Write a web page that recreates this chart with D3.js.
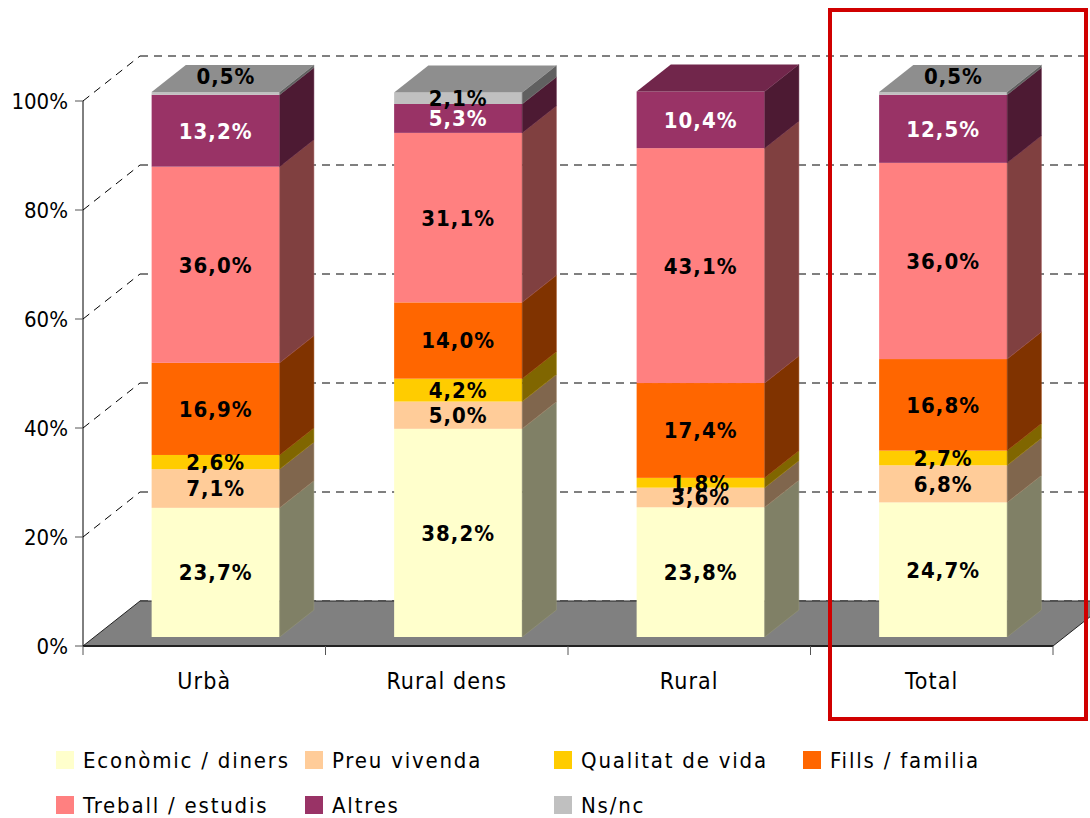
<!DOCTYPE html>
<html>
<head>
<meta charset="utf-8">
<script src="https://cdn.jsdelivr.net/npm/d3@7"></script>
<style>
  body { margin: 0; background: #fff; }
  text { font-family: "DejaVu Sans Condensed", "DejaVu Sans", sans-serif; font-stretch: condensed; }
</style>
</head>
<body>
<div class="chart"></div>
<script>
// data
var categories = ['Urbà', 'Rural dens', 'Rural', 'Total'];
var seriesNames = ['Econòmic / diners', 'Preu vivenda', 'Qualitat de vida', 'Fills / familia',
                   'Treball / estudis', 'Altres', 'Ns/nc'];
var economic  = [23.7, 38.2, 23.8, 24.7];
var preu      = [7.1, 5.0, 3.6, 6.8];
var qualitat  = [2.6, 4.2, 1.8, 2.7];
var fills     = [16.9, 14.0, 17.4, 16.8];
var treball   = [36.0, 31.1, 43.1, 36.0];
var altres    = [13.2, 5.3, 10.4, 12.5];
var nsnc      = [0.5, 2.1, 0, 0.5];
var yTicks    = [0, 20, 40, 60, 80, 100];

var colors = ['#FFFFCC', '#FFCC99', '#FFCC00', '#FF6600', '#FF8080', '#993366', '#C0C0C0'];
var labelColors = ['#000', '#000', '#000', '#000', '#000', '#fff', '#000'];

var width = 1090, height = 818;
// front plane of the plot and the depth vector of the 3d box
var x0 = 83, x1 = 1053, yBottom = 646, yTop = 101;
var depth = { x: 57, y: -45 };
var barFront = 0.2, barDepth = 0.6;

var svg = d3.select('.chart')
  .append('svg')
    .attr('width', width)
    .attr('height', height);

var xScale = d3.scaleBand()
  .domain(categories)
  .range([x0, x1])
  .paddingInner(0.472)
  .paddingOuter(0.236);

var yScale = d3.scaleLinear()
  .domain([0, 100])
  .range([yBottom, yTop]);

var fmt = d3.formatLocale({ decimal: ',', thousands: '.', grouping: [3], currency: ['', '€'] }).format('.1f');

// rows for the stack
var table = categories.map(function (c, i) {
  var row = { cat: c };
  [economic, preu, qualitat, fills, treball, altres, nsnc].forEach(function (arr, k) {
    row[seriesNames[k]] = arr[i];
  });
  return row;
});
var stacked = d3.stack().keys(seriesNames)(table);

function shade(c, f) {
  var col = d3.rgb(c);
  return d3.rgb(col.r * f, col.g * f, col.b * f).toString();
}

// back wall gridlines + diagonal lines on the side
var grid = svg.append('g');
yTicks.forEach(function (t) {
  var y = yScale(t);
  if (t > 0) {
    grid.append('line')
      .attr('x1', x0).attr('y1', y)
      .attr('x2', x0 + depth.x).attr('y2', y + depth.y)
      .attr('stroke', '#000').attr('stroke-dasharray', '8,6');
  }
  grid.append('line')
    .attr('x1', x0 + depth.x).attr('y1', y + depth.y)
    .attr('x2', x1 + depth.x).attr('y2', y + depth.y)
    .attr('stroke', '#000').attr('stroke-dasharray', '8,6');
});

// floor
svg.append('path')
  .attr('d', d3.line()([
    [x0, yBottom], [x1, yBottom],
    [x1 + depth.x, yBottom + depth.y], [x0 + depth.x, yBottom + depth.y]
  ]) + 'Z')
  .attr('fill', '#808080')
  .attr('stroke', '#222')
  .attr('stroke-width', 1);
svg.append('line')
  .attr('x1', x0).attr('y1', yBottom).attr('x2', x1).attr('y2', yBottom)
  .attr('stroke', '#222').attr('stroke-width', 2);

// bars
var bw = xScale.bandwidth();
var fx = depth.x * barFront, fy = depth.y * barFront;
var dx = depth.x * barDepth, dy = depth.y * barDepth;

var bars = svg.append('g');
categories.forEach(function (c, i) {
  var left = xScale(c) + fx;
  var right = left + bw;
  var g = bars.append('g');
  var topIdx = -1;
  stacked.forEach(function (s, k) {
    var d = s[i];
    if (d[1] - d[0] <= 0) return;
    topIdx = k;
    var yb = yScale(d[0]) + fy, yt = yScale(d[1]) + fy;
    g.append('rect')
      .attr('x', left).attr('y', yt)
      .attr('width', bw).attr('height', yb - yt)
      .attr('fill', colors[k]);
    g.append('path')
      .attr('d', d3.line()([[right, yt], [right + dx, yt + dy], [right + dx, yb + dy], [right, yb]]) + 'Z')
      .attr('fill', shade(colors[k], 0.5))
      .attr('stroke', shade(colors[k], 0.6))
      .attr('stroke-width', 0.5);
  });
  var top = stacked[topIdx][i];
  var yt = yScale(top[1]) + fy;
  g.append('path')
    .attr('d', d3.line()([[left, yt], [left + dx, yt + dy], [right + dx, yt + dy], [right, yt]]) + 'Z')
    .attr('fill', shade(colors[topIdx], 0.74));
});

// value labels
var labels = svg.append('g')
  .attr('font-size', 22)
  .attr('font-weight', 'bold')
  .attr('text-anchor', 'middle')
  .attr('letter-spacing', 1);
categories.forEach(function (c, i) {
  var left = xScale(c) + fx;
  stacked.forEach(function (s, k) {
    var d = s[i];
    var v = d[1] - d[0];
    if (v <= 0) return;
    var cx = left + bw / 2;
    var cy = (yScale(d[0]) + yScale(d[1])) / 2 + fy;
    if (v < 1) { // tiny slice: the label sits on the top face
      cx += dx * 0.3;
      cy = yScale(d[1]) + fy + dy * 0.6;
    }
    labels.append('text')
      .attr('x', cx).attr('y', cy)
      .attr('dy', '0.36em')
      .attr('fill', labelColors[k])
      .text(fmt(v) + '%');
  });
});

// y axis
var yAxis = svg.append('g');
yAxis.append('line')
  .attr('x1', x0).attr('y1', yTop).attr('x2', x0).attr('y2', yBottom)
  .attr('stroke', '#000');
yTicks.forEach(function (t) {
  yAxis.append('line')
    .attr('x1', x0 - 8).attr('y1', yScale(t)).attr('x2', x0).attr('y2', yScale(t))
    .attr('stroke', '#555');
  yAxis.append('text')
    .attr('x', x0 - 15).attr('y', yScale(t))
    .attr('dy', '0.36em')
    .attr('text-anchor', 'end')
    .attr('font-size', 22)
    .text(t + '%');
});

// category ticks + labels
var xAxis = svg.append('g');
xScale.domain().concat(['_end']).forEach(function (c, i) {
  var x = x0 + i * xScale.step();
  xAxis.append('line')
    .attr('x1', x).attr('y1', yBottom).attr('x2', x).attr('y2', yBottom + 9)
    .attr('stroke', '#555');
});
categories.forEach(function (c) {
  xAxis.append('text')
    .attr('x', xScale(c) + bw / 2)
    .attr('y', 681)
    .attr('dy', '0.36em')
    .attr('text-anchor', 'middle')
    .attr('font-size', 23)
    .attr('letter-spacing', 1.1)
    .text(c);
});

// legend
var legend = svg.append('g');
seriesNames.forEach(function (name, k) {
  var lx = 56 + (k % 4) * 249;
  var ly = 760 + Math.floor(k / 4) * 45;
  legend.append('rect')
    .attr('x', lx).attr('y', ly - 9)
    .attr('width', 18).attr('height', 18)
    .attr('fill', colors[k]);
  legend.append('text')
    .attr('x', lx + 27).attr('y', ly)
    .attr('dy', '0.36em')
    .attr('font-size', 22)
    .attr('letter-spacing', 1.8)
    .text(name);
});

// red highlight box round the Total column
svg.append('rect')
  .attr('x', 830).attr('y', 10)
  .attr('width', 256).attr('height', 709)
  .attr('fill', 'none')
  .attr('stroke', '#d00000')
  .attr('stroke-width', 4);
</script>
</body>
</html>
